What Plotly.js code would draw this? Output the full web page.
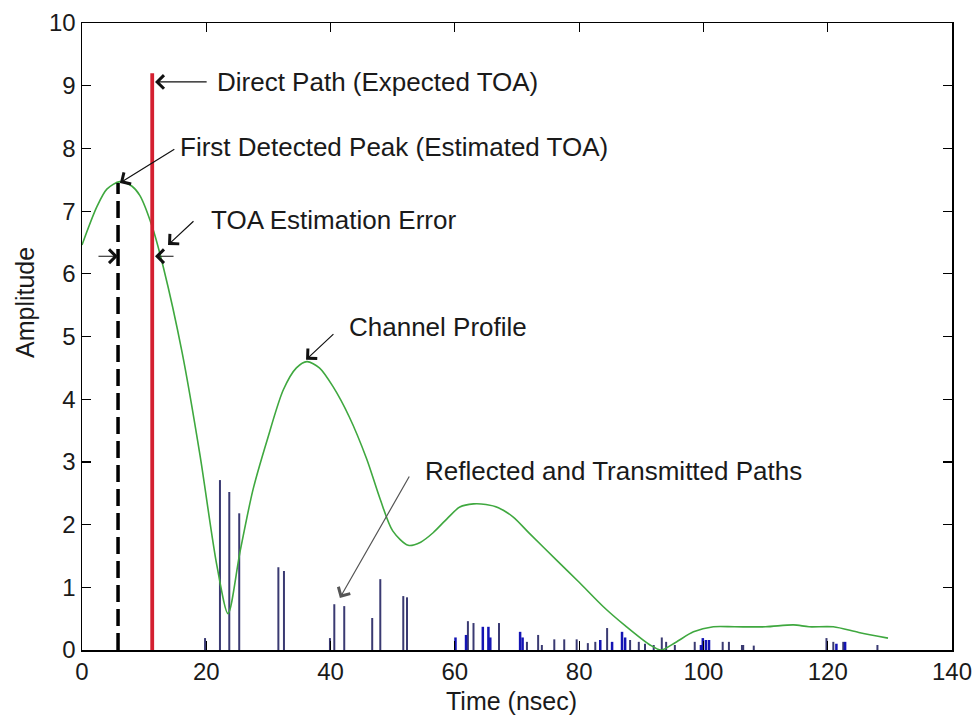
<!DOCTYPE html>
<html>
<head>
<meta charset="utf-8">
<script src="https://cdn.plot.ly/plotly-3.0.1.min.js"></script>
<style>html,body{margin:0;padding:0;background:#fff;}#chart{width:977px;height:723px;}</style>
</head>
<body>
<div id="chart"></div>
<script>
// ---- Data ----
const profileTime = [0, 2.4, 4, 6.1, 8, 9.3, 11.3, 13.1, 16.1, 19, 21.7, 23.5, 25.4, 27.5, 29.8, 32.4, 34.5, 36.2, 38.2, 40.4, 43, 45.8, 48, 50, 52.5, 54.5, 56.5, 58.8, 60.8, 63, 65, 67, 69.4, 72, 76.4, 80, 83.9, 87.5, 91.4, 93.2, 95.5, 98.4, 101.6, 105, 110, 114.5, 117, 120.9, 125, 129.7];
const profileAmp  = [6.46, 7.07, 7.35, 7.47, 7.4, 7.25, 6.75, 6.1, 4.75, 3.1, 1.35, 0.58, 1.55, 2.55, 3.35, 4.15, 4.5, 4.6, 4.5, 4.2, 3.72, 3.05, 2.4, 1.9, 1.67, 1.72, 1.87, 2.1, 2.28, 2.33, 2.32, 2.27, 2.12, 1.86, 1.43, 1.08, 0.69, 0.38, 0.08, 0.0, 0.12, 0.29, 0.37, 0.37, 0.37, 0.40, 0.37, 0.37, 0.28, 0.19];

const pathTimeDark = [19.8, 22.2, 23.7, 25.3, 31.6, 32.5, 39.9, 40.6, 42.2, 46.7, 48.0, 51.7, 52.3, 62.1, 63.0, 67.1, 71.6, 73.4, 74.0, 76.0, 77.6, 79.6, 81.4, 82.6, 84.5, 88.2, 89.6, 90.6, 92.0, 93.3, 94.0, 95.4, 98.6, 103.1, 104.1, 106.2, 106.4, 108.1, 119.8, 120.9, 122.5, 128.0];
const pathAmpDark  = [0.19, 2.71, 2.52, 2.18, 1.32, 1.26, 0.19, 0.73, 0.70, 0.51, 1.13, 0.86, 0.84, 0.46, 0.43, 0.43, 0.13, 0.24, 0.08, 0.17, 0.17, 0.17, 0.11, 0.13, 0.35, 0.16, 0.13, 0.10, 0.08, 0.20, 0.13, 0.08, 0.13, 0.13, 0.13, 0.08, 0.08, 0.07, 0.19, 0.13, 0.13, 0.08];
const pathTimeBlue = [60.1, 61.8, 64.5, 65.4, 65.7, 70.5, 70.9, 83.4, 85.3, 86.9, 87.4, 99.6, 99.9, 100.4, 100.9, 121.4, 122.8];
const pathAmpBlue  = [0.20, 0.24, 0.37, 0.37, 0.20, 0.29, 0.20, 0.16, 0.13, 0.29, 0.20, 0.08, 0.19, 0.16, 0.16, 0.10, 0.13];

const directPathTime = 11.3, directPathAmp = 9.2;
const detectedPeakTime = 5.8, detectedPeakAmp = 7.45;

const xTicks = [0, 20, 40, 60, 80, 100, 120, 140];
const yTicks = [0, 1, 2, 3, 4, 5, 6, 7, 8, 9, 10];

const labels = {
  direct: "Direct Path (Expected TOA)",
  peak: "First Detected Peak (Estimated TOA)",
  error: "TOA Estimation Error",
  profile: "Channel Profile",
  paths: "Reflected and Transmitted Paths",
  xTitle: "Time (nsec)",
  yTitle: "Amplitude"
};

// ---- Build stem segments ----
function stems(ts, as) {
  const x = [], y = [];
  ts.forEach((t, i) => { x.push(t, t, null); y.push(0, as[i], null); });
  return {x, y};
}
const sd = stems(pathTimeDark, pathAmpDark);
const sb = stems(pathTimeBlue, pathAmpBlue);

const FONT = "Liberation Sans, Arial, Helvetica, sans-serif";

const traces = [
  {x: sd.x, y: sd.y, mode: 'lines', line: {color: '#3a3a72', width: 2}, hoverinfo: 'skip'},
  {x: sb.x, y: sb.y, mode: 'lines', line: {color: '#1414b4', width: 2.5}, hoverinfo: 'skip'},
  {x: profileTime, y: profileAmp, mode: 'lines', line: {color: '#3fa83f', width: 1.6, shape: 'spline', smoothing: 0.8}},
  {x: [detectedPeakTime, detectedPeakTime], y: [0, detectedPeakAmp], mode: 'lines', line: {color: '#000', width: 3.5, dash: '17px,7px'}},
  {x: [directPathTime, directPathTime], y: [0, directPathAmp], mode: 'lines', line: {color: '#d42030', width: 3.8}}
];

function arrow(hx, hy, tx, ty, color) {
  return {x: hx, y: hy, ax: tx, ay: ty, xref: 'x', yref: 'y', axref: 'x', ayref: 'y',
    text: '', showarrow: true, arrowhead: 4, arrowsize: 2.2, arrowwidth: 1.2, arrowcolor: color || '#111', standoff: 0, startstandoff: 0};
}
function label(x, y, text) {
  return {x: x, y: y, xref: 'x', yref: 'y', text: text, showarrow: false, xanchor: 'left', yanchor: 'middle',
    font: {family: FONT, size: 26, color: '#1a1a1a'}};
}

const annotations = [
  arrow(11.75, 9.06, 20.3, 9.06),
  label(21.4, 9.06, labels.direct),
  arrow(6.1, 7.45, 15.1, 8.0),
  label(15.4, 8.02, labels.peak),
  arrow(13.84, 6.46, 18.18, 6.86),
  label(20.4, 6.86, labels.error),
  arrow(5.79, 6.28, 2.41, 6.28),
  arrow(11.75, 6.28, 14.97, 6.28),
  arrow(36.05, 4.63, 40.7, 5.06),
  label(42.6, 5.15, labels.profile),
  arrow(41.5, 0.83, 52.8, 2.79, '#555'),
  label(54.8, 2.85, labels.paths),
  {xref: 'paper', yref: 'paper', x: (511 - 82) / 870, y: -(701 - 650) / 627, text: labels.xTitle, showarrow: false,
    xanchor: 'center', yanchor: 'middle', font: {family: FONT, size: 25, color: '#1a1a1a'}},
  {xref: 'paper', yref: 'paper', x: (25 - 82) / 870, y: (650 - 302) / 627, text: labels.yTitle, showarrow: false,
    textangle: -90, xanchor: 'center', yanchor: 'middle', font: {family: FONT, size: 25, color: '#1a1a1a'}}
];

const axisCommon = {
  showgrid: false, zeroline: false, showline: true, linecolor: '#000', linewidth: 1.5,
  mirror: 'ticks', ticks: 'inside', ticklen: 9, tickwidth: 1.2, tickcolor: '#000',
  tickfont: {family: FONT, size: 24, color: '#1a1a1a'}, fixedrange: true
};

const layout = {
  width: 977, height: 723,
  margin: {l: 82, r: 25, t: 23, b: 73, pad: 0},
  paper_bgcolor: '#fff', plot_bgcolor: '#fff',
  showlegend: false,
  xaxis: Object.assign({}, axisCommon, {range: [0, 140], tickvals: xTicks, ticktext: xTicks.map(String)}),
  yaxis: Object.assign({}, axisCommon, {range: [0, 10], tickvals: yTicks, ticktext: yTicks.map(String)}),
  annotations: annotations
};

Plotly.newPlot('chart', traces, layout, {displayModeBar: false, staticPlot: true});
</script>
</body>
</html>
